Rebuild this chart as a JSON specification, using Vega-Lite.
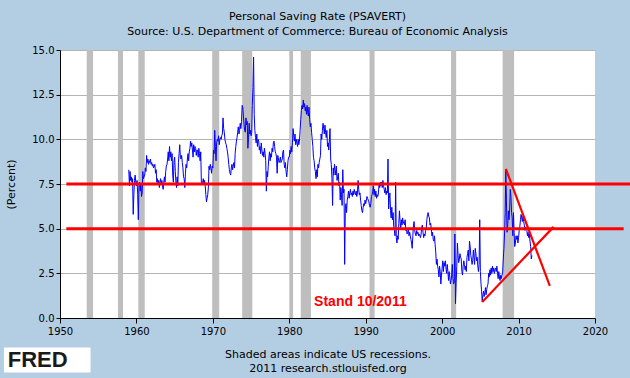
{
"$schema":"https://vega.github.io/schema/vega-lite/v6.json",
"width":535,"height":268,
"autosize":{"type":"none"},
"padding":{"left":60,"top":50,"right":35,"bottom":60},
"background":"#B3CDE3",
"config":{"view":{"fill":"#FFFFFF","stroke":null},"font":"DejaVu Sans"},
"title":{"text":"Personal Saving Rate (PSAVERT)","subtitle":"Source: U.S. Department of Commerce: Bureau of Economic Analysis","font":"DejaVu Sans","fontSize":11,"fontWeight":"normal","color":"#000000","subtitleFont":"DejaVu Sans","subtitleFontSize":11,"subtitleColor":"#000000","subtitlePadding":4,"anchor":"middle","frame":"group","dx":-10,"offset":8},
"datasets":{
"rec":[{"s":"1953-07-01","e":"1954-05-01"},{"s":"1957-08-01","e":"1958-04-01"},{"s":"1960-04-01","e":"1961-02-01"},{"s":"1969-12-01","e":"1970-11-01"},{"s":"1973-11-01","e":"1975-03-01"},{"s":"1980-01-01","e":"1980-07-01"},{"s":"1981-07-01","e":"1982-11-01"},{"s":"1990-07-01","e":"1991-03-01"},{"s":"2001-03-01","e":"2001-11-01"},{"s":"2007-12-01","e":"2009-06-01"}],
"hl":[{"g":"a","d":"1950-11","v":7.5},{"g":"a","d":"2025-06","v":7.5},{"g":"b","d":"1950-11","v":5.0},{"g":"b","d":"2023-10","v":5.0}],
"tr":[{"g":"down","d":"2008-05","v":8.35},{"g":"down","d":"2014-02","v":1.8},{"g":"up","d":"2005-04","v":0.9},{"g":"up","d":"2014-08","v":5.1}],
"note":[{"label":"Stand 10/2011","d":"1983-04","v":0.9}],
"logo":[{"label":"FRED","d":"1947-02","v":-2.35}],
"ps":[
{"d":"1959-01","v":8.3},{"d":"1959-02","v":7.4},{"d":"1959-03","v":8.2},{"d":"1959-04","v":7.7},{"d":"1959-05","v":7.9},{"d":"1959-06","v":7.6},{"d":"1959-07","v":7.8},{"d":"1959-08","v":5.8},{"d":"1959-09","v":6.9},{"d":"1959-10","v":7.7},{"d":"1959-11","v":8.0},{"d":"1959-12","v":7.6},
{"d":"1960-01","v":7.4},{"d":"1960-02","v":7.7},{"d":"1960-03","v":6.9},{"d":"1960-04","v":5.5},{"d":"1960-05","v":7.4},{"d":"1960-06","v":7.6},{"d":"1960-07","v":7.1},{"d":"1960-08","v":7.5},{"d":"1960-09","v":6.8},{"d":"1960-10","v":7.0},{"d":"1960-11","v":8.2},{"d":"1960-12","v":7.8},
{"d":"1961-01","v":7.9},{"d":"1961-02","v":8.0},{"d":"1961-03","v":8.4},{"d":"1961-04","v":8.2},{"d":"1961-05","v":9.1},{"d":"1961-06","v":8.7},{"d":"1961-07","v":8.9},{"d":"1961-08","v":8.6},{"d":"1961-09","v":8.8},{"d":"1961-10","v":8.7},{"d":"1961-11","v":8.9},{"d":"1961-12","v":8.6},
{"d":"1962-01","v":8.7},{"d":"1962-02","v":8.5},{"d":"1962-03","v":8.6},{"d":"1962-04","v":8.4},{"d":"1962-05","v":8.5},{"d":"1962-06","v":8.6},{"d":"1962-07","v":8.1},{"d":"1962-08","v":8.3},{"d":"1962-09","v":7.6},{"d":"1962-10","v":7.8},{"d":"1962-11","v":7.5},{"d":"1962-12","v":7.7},
{"d":"1963-01","v":7.3},{"d":"1963-02","v":7.6},{"d":"1963-03","v":7.8},{"d":"1963-04","v":7.5},{"d":"1963-05","v":7.7},{"d":"1963-06","v":7.4},{"d":"1963-07","v":7.2},{"d":"1963-08","v":7.6},{"d":"1963-09","v":7.9},{"d":"1963-10","v":7.6},{"d":"1963-11","v":8.2},{"d":"1963-12","v":8.5},
{"d":"1964-01","v":8.6},{"d":"1964-02","v":8.9},{"d":"1964-03","v":9.3},{"d":"1964-04","v":8.8},{"d":"1964-05","v":9.6},{"d":"1964-06","v":9.0},{"d":"1964-07","v":9.3},{"d":"1964-08","v":8.8},{"d":"1964-09","v":9.2},{"d":"1964-10","v":8.0},{"d":"1964-11","v":7.6},{"d":"1964-12","v":8.8},
{"d":"1965-01","v":9.0},{"d":"1965-02","v":8.2},{"d":"1965-03","v":7.6},{"d":"1965-04","v":7.3},{"d":"1965-05","v":7.9},{"d":"1965-06","v":7.4},{"d":"1965-07","v":8.7},{"d":"1965-08","v":9.2},{"d":"1965-09","v":9.7},{"d":"1965-10","v":9.0},{"d":"1965-11","v":8.9},{"d":"1965-12","v":9.1},
{"d":"1966-01","v":8.7},{"d":"1966-02","v":8.4},{"d":"1966-03","v":7.9},{"d":"1966-04","v":7.8},{"d":"1966-05","v":7.3},{"d":"1966-06","v":8.1},{"d":"1966-07","v":8.6},{"d":"1966-08","v":8.4},{"d":"1966-09","v":8.9},{"d":"1966-10","v":9.2},{"d":"1966-11","v":8.8},{"d":"1966-12","v":9.3},
{"d":"1967-01","v":9.5},{"d":"1967-02","v":9.9},{"d":"1967-03","v":9.6},{"d":"1967-04","v":9.8},{"d":"1967-05","v":9.4},{"d":"1967-06","v":9.0},{"d":"1967-07","v":9.7},{"d":"1967-08","v":9.3},{"d":"1967-09","v":9.6},{"d":"1967-10","v":9.5},{"d":"1967-11","v":9.1},{"d":"1967-12","v":9.4},
{"d":"1968-01","v":9.4},{"d":"1968-02","v":9.0},{"d":"1968-03","v":9.5},{"d":"1968-04","v":9.2},{"d":"1968-05","v":8.8},{"d":"1968-06","v":9.3},{"d":"1968-07","v":7.6},{"d":"1968-08","v":7.5},{"d":"1968-09","v":7.6},{"d":"1968-10","v":7.8},{"d":"1968-11","v":7.5},{"d":"1968-12","v":7.7},
{"d":"1969-01","v":7.4},{"d":"1969-02","v":6.9},{"d":"1969-03","v":6.5},{"d":"1969-04","v":6.7},{"d":"1969-05","v":6.9},{"d":"1969-06","v":7.3},{"d":"1969-07","v":8.5},{"d":"1969-08","v":8.3},{"d":"1969-09","v":8.6},{"d":"1969-10","v":8.4},{"d":"1969-11","v":8.1},{"d":"1969-12","v":8.5},
{"d":"1970-01","v":8.4},{"d":"1970-02","v":9.4},{"d":"1970-03","v":9.2},{"d":"1970-04","v":10.5},{"d":"1970-05","v":9.6},{"d":"1970-06","v":8.8},{"d":"1970-07","v":9.8},{"d":"1970-08","v":10.0},{"d":"1970-09","v":9.9},{"d":"1970-10","v":10.2},{"d":"1970-11","v":9.7},{"d":"1970-12","v":10.0},
{"d":"1971-01","v":10.1},{"d":"1971-02","v":10.0},{"d":"1971-03","v":10.2},{"d":"1971-04","v":10.3},{"d":"1971-05","v":11.2},{"d":"1971-06","v":10.6},{"d":"1971-07","v":10.4},{"d":"1971-08","v":10.0},{"d":"1971-09","v":9.8},{"d":"1971-10","v":9.7},{"d":"1971-11","v":9.5},{"d":"1971-12","v":9.3},
{"d":"1972-01","v":9.0},{"d":"1972-02","v":8.6},{"d":"1972-03","v":8.3},{"d":"1972-04","v":8.1},{"d":"1972-05","v":8.0},{"d":"1972-06","v":8.4},{"d":"1972-07","v":8.6},{"d":"1972-08","v":8.3},{"d":"1972-09","v":8.5},{"d":"1972-10","v":8.7},{"d":"1972-11","v":8.4},{"d":"1972-12","v":9.2},
{"d":"1973-01","v":9.6},{"d":"1973-02","v":9.9},{"d":"1973-03","v":10.1},{"d":"1973-04","v":10.4},{"d":"1973-05","v":10.7},{"d":"1973-06","v":10.3},{"d":"1973-07","v":10.5},{"d":"1973-08","v":10.9},{"d":"1973-09","v":10.6},{"d":"1973-10","v":11.0},{"d":"1973-11","v":11.9},{"d":"1973-12","v":11.8},
{"d":"1974-01","v":11.3},{"d":"1974-02","v":10.8},{"d":"1974-03","v":10.5},{"d":"1974-04","v":10.4},{"d":"1974-05","v":11.2},{"d":"1974-06","v":10.8},{"d":"1974-07","v":11.0},{"d":"1974-08","v":9.5},{"d":"1974-09","v":10.1},{"d":"1974-10","v":10.9},{"d":"1974-11","v":10.3},{"d":"1974-12","v":10.5},
{"d":"1975-01","v":10.2},{"d":"1975-02","v":10.4},{"d":"1975-03","v":11.9},{"d":"1975-04","v":12.9},{"d":"1975-05","v":14.6},{"d":"1975-06","v":11.4},{"d":"1975-07","v":10.5},{"d":"1975-08","v":10.1},{"d":"1975-09","v":9.8},{"d":"1975-10","v":10.3},{"d":"1975-11","v":9.6},{"d":"1975-12","v":10.0},
{"d":"1976-01","v":9.9},{"d":"1976-02","v":9.4},{"d":"1976-03","v":9.6},{"d":"1976-04","v":9.2},{"d":"1976-05","v":9.8},{"d":"1976-06","v":9.4},{"d":"1976-07","v":9.1},{"d":"1976-08","v":9.3},{"d":"1976-09","v":9.0},{"d":"1976-10","v":9.5},{"d":"1976-11","v":9.2},{"d":"1976-12","v":8.8},
{"d":"1977-01","v":7.1},{"d":"1977-02","v":8.2},{"d":"1977-03","v":7.9},{"d":"1977-04","v":8.5},{"d":"1977-05","v":9.0},{"d":"1977-06","v":9.3},{"d":"1977-07","v":8.8},{"d":"1977-08","v":9.2},{"d":"1977-09","v":9.0},{"d":"1977-10","v":9.5},{"d":"1977-11","v":9.3},{"d":"1977-12","v":9.8},
{"d":"1978-01","v":9.9},{"d":"1978-02","v":9.6},{"d":"1978-03","v":9.3},{"d":"1978-04","v":9.2},{"d":"1978-05","v":9.0},{"d":"1978-06","v":8.1},{"d":"1978-07","v":9.1},{"d":"1978-08","v":8.9},{"d":"1978-09","v":8.7},{"d":"1978-10","v":8.8},{"d":"1978-11","v":9.0},{"d":"1978-12","v":8.7},
{"d":"1979-01","v":8.8},{"d":"1979-02","v":8.9},{"d":"1979-03","v":9.3},{"d":"1979-04","v":9.4},{"d":"1979-05","v":8.6},{"d":"1979-06","v":8.4},{"d":"1979-07","v":8.7},{"d":"1979-08","v":8.2},{"d":"1979-09","v":7.9},{"d":"1979-10","v":8.3},{"d":"1979-11","v":8.8},{"d":"1979-12","v":9.0},
{"d":"1980-01","v":9.0},{"d":"1980-02","v":9.4},{"d":"1980-03","v":9.2},{"d":"1980-04","v":9.6},{"d":"1980-05","v":9.3},{"d":"1980-06","v":9.8},{"d":"1980-07","v":10.6},{"d":"1980-08","v":10.2},{"d":"1980-09","v":9.9},{"d":"1980-10","v":10.3},{"d":"1980-11","v":9.7},{"d":"1980-12","v":10.0},
{"d":"1981-01","v":9.8},{"d":"1981-02","v":9.6},{"d":"1981-03","v":10.0},{"d":"1981-04","v":9.7},{"d":"1981-05","v":9.9},{"d":"1981-06","v":10.5},{"d":"1981-07","v":11.1},{"d":"1981-08","v":11.6},{"d":"1981-09","v":11.9},{"d":"1981-10","v":11.7},{"d":"1981-11","v":12.2},{"d":"1981-12","v":11.8},
{"d":"1982-01","v":12.0},{"d":"1982-02","v":11.6},{"d":"1982-03","v":11.8},{"d":"1982-04","v":11.4},{"d":"1982-05","v":11.9},{"d":"1982-06","v":11.5},{"d":"1982-07","v":11.3},{"d":"1982-08","v":11.8},{"d":"1982-09","v":11.1},{"d":"1982-10","v":10.7},{"d":"1982-11","v":10.9},{"d":"1982-12","v":10.4},
{"d":"1983-01","v":10.0},{"d":"1983-02","v":9.6},{"d":"1983-03","v":9.0},{"d":"1983-04","v":8.8},{"d":"1983-05","v":8.4},{"d":"1983-06","v":8.2},{"d":"1983-07","v":7.8},{"d":"1983-08","v":8.3},{"d":"1983-09","v":7.9},{"d":"1983-10","v":8.6},{"d":"1983-11","v":8.4},{"d":"1983-12","v":8.7},
{"d":"1984-01","v":8.9},{"d":"1984-02","v":9.1},{"d":"1984-03","v":10.3},{"d":"1984-04","v":10.0},{"d":"1984-05","v":10.5},{"d":"1984-06","v":10.9},{"d":"1984-07","v":10.6},{"d":"1984-08","v":10.3},{"d":"1984-09","v":10.8},{"d":"1984-10","v":10.4},{"d":"1984-11","v":10.1},{"d":"1984-12","v":10.5},
{"d":"1985-01","v":9.6},{"d":"1985-02","v":9.8},{"d":"1985-03","v":9.4},{"d":"1985-04","v":10.0},{"d":"1985-05","v":10.6},{"d":"1985-06","v":8.9},{"d":"1985-07","v":8.6},{"d":"1985-08","v":7.8},{"d":"1985-09","v":6.3},{"d":"1985-10","v":8.4},{"d":"1985-11","v":8.0},{"d":"1985-12","v":8.6},
{"d":"1986-01","v":8.3},{"d":"1986-02","v":8.0},{"d":"1986-03","v":8.5},{"d":"1986-04","v":7.7},{"d":"1986-05","v":7.9},{"d":"1986-06","v":8.1},{"d":"1986-07","v":7.4},{"d":"1986-08","v":7.6},{"d":"1986-09","v":6.6},{"d":"1986-10","v":7.3},{"d":"1986-11","v":6.9},{"d":"1986-12","v":6.3},
{"d":"1987-01","v":8.3},{"d":"1987-02","v":7.0},{"d":"1987-03","v":7.2},{"d":"1987-04","v":3.0},{"d":"1987-05","v":6.1},{"d":"1987-06","v":6.4},{"d":"1987-07","v":5.9},{"d":"1987-08","v":6.6},{"d":"1987-09","v":6.8},{"d":"1987-10","v":7.1},{"d":"1987-11","v":6.7},{"d":"1987-12","v":7.0},
{"d":"1988-01","v":7.2},{"d":"1988-02","v":6.9},{"d":"1988-03","v":7.0},{"d":"1988-04","v":6.8},{"d":"1988-05","v":7.1},{"d":"1988-06","v":6.9},{"d":"1988-07","v":7.2},{"d":"1988-08","v":7.0},{"d":"1988-09","v":6.9},{"d":"1988-10","v":7.1},{"d":"1988-11","v":6.8},{"d":"1988-12","v":7.0},
{"d":"1989-01","v":7.7},{"d":"1989-02","v":7.2},{"d":"1989-03","v":6.9},{"d":"1989-04","v":7.0},{"d":"1989-05","v":6.6},{"d":"1989-06","v":6.3},{"d":"1989-07","v":6.0},{"d":"1989-08","v":5.9},{"d":"1989-09","v":6.2},{"d":"1989-10","v":6.4},{"d":"1989-11","v":6.3},{"d":"1989-12","v":6.6},
{"d":"1990-01","v":6.4},{"d":"1990-02","v":6.6},{"d":"1990-03","v":6.8},{"d":"1990-04","v":6.7},{"d":"1990-05","v":6.6},{"d":"1990-06","v":6.5},{"d":"1990-07","v":6.3},{"d":"1990-08","v":6.2},{"d":"1990-09","v":6.4},{"d":"1990-10","v":6.8},{"d":"1990-11","v":6.9},{"d":"1990-12","v":7.1},
{"d":"1991-01","v":7.4},{"d":"1991-02","v":6.9},{"d":"1991-03","v":7.2},{"d":"1991-04","v":6.8},{"d":"1991-05","v":7.1},{"d":"1991-06","v":6.7},{"d":"1991-07","v":6.9},{"d":"1991-08","v":6.8},{"d":"1991-09","v":7.0},{"d":"1991-10","v":7.5},{"d":"1991-11","v":7.3},{"d":"1991-12","v":7.6},
{"d":"1992-01","v":7.4},{"d":"1992-02","v":7.6},{"d":"1992-03","v":7.3},{"d":"1992-04","v":7.7},{"d":"1992-05","v":7.4},{"d":"1992-06","v":7.2},{"d":"1992-07","v":7.0},{"d":"1992-08","v":7.3},{"d":"1992-09","v":6.9},{"d":"1992-10","v":7.1},{"d":"1992-11","v":7.0},{"d":"1992-12","v":8.9},
{"d":"1993-01","v":6.1},{"d":"1993-02","v":6.7},{"d":"1993-03","v":7.0},{"d":"1993-04","v":6.0},{"d":"1993-05","v":5.6},{"d":"1993-06","v":6.2},{"d":"1993-07","v":5.5},{"d":"1993-08","v":5.9},{"d":"1993-09","v":5.1},{"d":"1993-10","v":4.9},{"d":"1993-11","v":4.6},{"d":"1993-12","v":7.6},
{"d":"1994-01","v":4.5},{"d":"1994-02","v":4.2},{"d":"1994-03","v":4.6},{"d":"1994-04","v":4.4},{"d":"1994-05","v":5.3},{"d":"1994-06","v":6.0},{"d":"1994-07","v":5.4},{"d":"1994-08","v":5.0},{"d":"1994-09","v":5.5},{"d":"1994-10","v":5.2},{"d":"1994-11","v":5.6},{"d":"1994-12","v":5.3},
{"d":"1995-01","v":5.4},{"d":"1995-02","v":5.2},{"d":"1995-03","v":5.5},{"d":"1995-04","v":4.9},{"d":"1995-05","v":5.0},{"d":"1995-06","v":4.7},{"d":"1995-07","v":4.8},{"d":"1995-08","v":5.0},{"d":"1995-09","v":4.6},{"d":"1995-10","v":4.8},{"d":"1995-11","v":4.6},{"d":"1995-12","v":4.4},
{"d":"1996-01","v":4.2},{"d":"1996-02","v":3.9},{"d":"1996-03","v":4.6},{"d":"1996-04","v":5.2},{"d":"1996-05","v":5.4},{"d":"1996-06","v":4.9},{"d":"1996-07","v":4.7},{"d":"1996-08","v":4.6},{"d":"1996-09","v":4.9},{"d":"1996-10","v":4.7},{"d":"1996-11","v":4.8},{"d":"1996-12","v":4.6},
{"d":"1997-01","v":4.7},{"d":"1997-02","v":4.6},{"d":"1997-03","v":4.5},{"d":"1997-04","v":4.7},{"d":"1997-05","v":5.1},{"d":"1997-06","v":5.2},{"d":"1997-07","v":4.8},{"d":"1997-08","v":4.5},{"d":"1997-09","v":4.7},{"d":"1997-10","v":4.6},{"d":"1997-11","v":4.9},{"d":"1997-12","v":5.0},
{"d":"1998-01","v":5.5},{"d":"1998-02","v":5.8},{"d":"1998-03","v":5.9},{"d":"1998-04","v":5.7},{"d":"1998-05","v":5.6},{"d":"1998-06","v":5.2},{"d":"1998-07","v":5.3},{"d":"1998-08","v":5.0},{"d":"1998-09","v":4.6},{"d":"1998-10","v":4.8},{"d":"1998-11","v":4.4},{"d":"1998-12","v":4.3},
{"d":"1999-01","v":4.6},{"d":"1999-02","v":4.1},{"d":"1999-03","v":3.7},{"d":"1999-04","v":3.0},{"d":"1999-05","v":3.3},{"d":"1999-06","v":2.9},{"d":"1999-07","v":2.7},{"d":"1999-08","v":2.3},{"d":"1999-09","v":2.9},{"d":"1999-10","v":2.6},{"d":"1999-11","v":1.9},{"d":"1999-12","v":2.4},
{"d":"2000-01","v":2.8},{"d":"2000-02","v":3.2},{"d":"2000-03","v":2.6},{"d":"2000-04","v":3.1},{"d":"2000-05","v":2.9},{"d":"2000-06","v":3.2},{"d":"2000-07","v":2.8},{"d":"2000-08","v":2.5},{"d":"2000-09","v":3.0},{"d":"2000-10","v":2.6},{"d":"2000-11","v":2.1},{"d":"2000-12","v":2.6},
{"d":"2001-01","v":2.3},{"d":"2001-02","v":1.9},{"d":"2001-03","v":2.1},{"d":"2001-04","v":2.4},{"d":"2001-05","v":3.0},{"d":"2001-06","v":2.2},{"d":"2001-07","v":1.9},{"d":"2001-08","v":2.0},{"d":"2001-09","v":4.7},{"d":"2001-10","v":0.8},{"d":"2001-11","v":2.0},{"d":"2001-12","v":2.9},
{"d":"2002-01","v":4.2},{"d":"2002-02","v":3.5},{"d":"2002-03","v":3.1},{"d":"2002-04","v":3.3},{"d":"2002-05","v":3.6},{"d":"2002-06","v":3.4},{"d":"2002-07","v":3.3},{"d":"2002-08","v":2.6},{"d":"2002-09","v":2.4},{"d":"2002-10","v":2.9},{"d":"2002-11","v":3.2},{"d":"2002-12","v":3.0},
{"d":"2003-01","v":2.7},{"d":"2003-02","v":2.9},{"d":"2003-03","v":2.6},{"d":"2003-04","v":3.4},{"d":"2003-05","v":3.6},{"d":"2003-06","v":3.8},{"d":"2003-07","v":3.2},{"d":"2003-08","v":4.3},{"d":"2003-09","v":4.0},{"d":"2003-10","v":3.5},{"d":"2003-11","v":3.3},{"d":"2003-12","v":3.0},
{"d":"2004-01","v":3.2},{"d":"2004-02","v":3.8},{"d":"2004-03","v":3.4},{"d":"2004-04","v":3.0},{"d":"2004-05","v":3.9},{"d":"2004-06","v":3.6},{"d":"2004-07","v":3.2},{"d":"2004-08","v":3.4},{"d":"2004-09","v":2.9},{"d":"2004-10","v":2.6},{"d":"2004-11","v":3.0},{"d":"2004-12","v":5.5},
{"d":"2005-01","v":2.6},{"d":"2005-02","v":1.9},{"d":"2005-03","v":1.5},{"d":"2005-04","v":0.9},{"d":"2005-05","v":1.3},{"d":"2005-06","v":1.5},{"d":"2005-07","v":1.2},{"d":"2005-08","v":1.4},{"d":"2005-09","v":1.7},{"d":"2005-10","v":1.3},{"d":"2005-11","v":1.6},{"d":"2005-12","v":1.8},
{"d":"2006-01","v":1.9},{"d":"2006-02","v":2.5},{"d":"2006-03","v":2.3},{"d":"2006-04","v":2.7},{"d":"2006-05","v":2.4},{"d":"2006-06","v":2.8},{"d":"2006-07","v":2.5},{"d":"2006-08","v":2.9},{"d":"2006-09","v":2.6},{"d":"2006-10","v":2.8},{"d":"2006-11","v":2.5},{"d":"2006-12","v":2.7},
{"d":"2007-01","v":2.8},{"d":"2007-02","v":2.6},{"d":"2007-03","v":2.9},{"d":"2007-04","v":2.5},{"d":"2007-05","v":2.2},{"d":"2007-06","v":2.6},{"d":"2007-07","v":2.3},{"d":"2007-08","v":2.1},{"d":"2007-09","v":2.4},{"d":"2007-10","v":2.2},{"d":"2007-11","v":2.4},{"d":"2007-12","v":2.5},
{"d":"2008-01","v":3.3},{"d":"2008-02","v":3.9},{"d":"2008-03","v":4.7},{"d":"2008-04","v":5.9},{"d":"2008-05","v":8.3},{"d":"2008-06","v":6.5},{"d":"2008-07","v":4.8},{"d":"2008-08","v":5.2},{"d":"2008-09","v":6.0},{"d":"2008-10","v":5.5},{"d":"2008-11","v":6.1},{"d":"2008-12","v":7.2},
{"d":"2009-01","v":6.8},{"d":"2009-02","v":5.9},{"d":"2009-03","v":5.6},{"d":"2009-04","v":4.6},{"d":"2009-05","v":5.9},{"d":"2009-06","v":4.8},{"d":"2009-07","v":4.0},{"d":"2009-08","v":4.2},{"d":"2009-09","v":4.6},{"d":"2009-10","v":4.4},{"d":"2009-11","v":4.6},{"d":"2009-12","v":4.2},
{"d":"2010-01","v":4.5},{"d":"2010-02","v":4.9},{"d":"2010-03","v":5.1},{"d":"2010-04","v":5.5},{"d":"2010-05","v":5.8},{"d":"2010-06","v":5.6},{"d":"2010-07","v":5.4},{"d":"2010-08","v":5.7},{"d":"2010-09","v":5.4},{"d":"2010-10","v":5.2},{"d":"2010-11","v":4.9},{"d":"2010-12","v":5.1},
{"d":"2011-01","v":5.0},{"d":"2011-02","v":4.9},{"d":"2011-03","v":4.6},{"d":"2011-04","v":4.8},{"d":"2011-05","v":4.5},{"d":"2011-06","v":4.7},{"d":"2011-07","v":4.3},{"d":"2011-08","v":4.0},{"d":"2011-09","v":3.3},{"d":"2011-10","v":3.5}
]},
"layer":[
{"data":{"name":"rec"},"mark":{"type":"rect","color":"#BEBEBE"},
"encoding":{"x":{"field":"s","type":"temporal",
"scale":{"type":"utc","domain":[{"year":1950,"utc":true},{"year":2020,"utc":true}],"nice":false},
"axis":{"values":[{"year":1950,"utc":true},{"year":1960,"utc":true},{"year":1970,"utc":true},{"year":1980,"utc":true},{"year":1990,"utc":true},{"year":2000,"utc":true},{"year":2010,"utc":true},{"year":2020,"utc":true}],"format":"%Y","labelFont":"DejaVu Sans","labelFontSize":10,"labelColor":"#000000","tickColor":"#000000","domainColor":"#000000","tickSize":5,"labelPadding":3,"grid":false,"labelFlush":false,"labelOverlap":false,
"title":["Shaded areas indicate US recessions.","2011 research.stlouisfed.org"],"titleFont":"DejaVu Sans","titleFontSize":11,"titleFontWeight":"normal","titleColor":"#000000","titlePadding":12,"titleLineHeight":14}},
"x2":{"field":"e"}}},
{"data":{"name":"ps"},"mark":{"type":"line","color":"#0000FF","strokeWidth":1},
"encoding":{"x":{"field":"d","type":"temporal"},
"y":{"field":"v","type":"quantitative",
"scale":{"domain":[0,15],"nice":false,"zero":true},
"axis":{"values":[0,2.5,5,7.5,10,12.5,15],"format":".1f","labelFont":"DejaVu Sans","labelFontSize":10,"labelColor":"#000000","tickColor":"#000000","domainColor":"#000000","tickSize":4,"labelPadding":2,"grid":true,"gridColor":"#B4B4B4","gridWidth":1,"labelFlush":false,
"title":"(Percent)","titleFont":"DejaVu Sans","titleFontSize":11,"titleFontWeight":"normal","titleColor":"#000000","titlePadding":15}}}},
{"data":{"name":"hl"},"mark":{"type":"line","color":"#FF0000","strokeWidth":3,"clip":false},"encoding":{"x":{"field":"d","type":"temporal"},"y":{"field":"v","type":"quantitative"},"detail":{"field":"g"}}},
{"data":{"name":"tr"},"mark":{"type":"line","color":"#FF0000","strokeWidth":2.2,"clip":false},"encoding":{"x":{"field":"d","type":"temporal"},"y":{"field":"v","type":"quantitative"},"detail":{"field":"g"}}},
{"data":{"name":"note"},"mark":{"type":"text","color":"#FF0000","font":"Liberation Sans","fontWeight":"bold","fontSize":14,"align":"left","baseline":"middle"},"encoding":{"x":{"field":"d","type":"temporal"},"y":{"field":"v","type":"quantitative"},"text":{"field":"label"}}},
{"data":{"name":"logo"},"mark":{"type":"rect","color":"#FFFFFF","clip":false},"encoding":{"x":{"datum":{"year":1942,"month":9,"utc":true}},"x2":{"datum":{"year":1954,"month":1,"utc":true}},"y":{"datum":-1.65},"y2":{"datum":-3.05}}},
{"data":{"name":"logo"},"mark":{"type":"text","color":"#1A1A1A","font":"Liberation Sans","fontWeight":"bold","fontSize":22,"align":"center","baseline":"middle","clip":false},"encoding":{"x":{"field":"d","type":"temporal"},"y":{"field":"v","type":"quantitative"},"text":{"field":"label"}}}
]
}
